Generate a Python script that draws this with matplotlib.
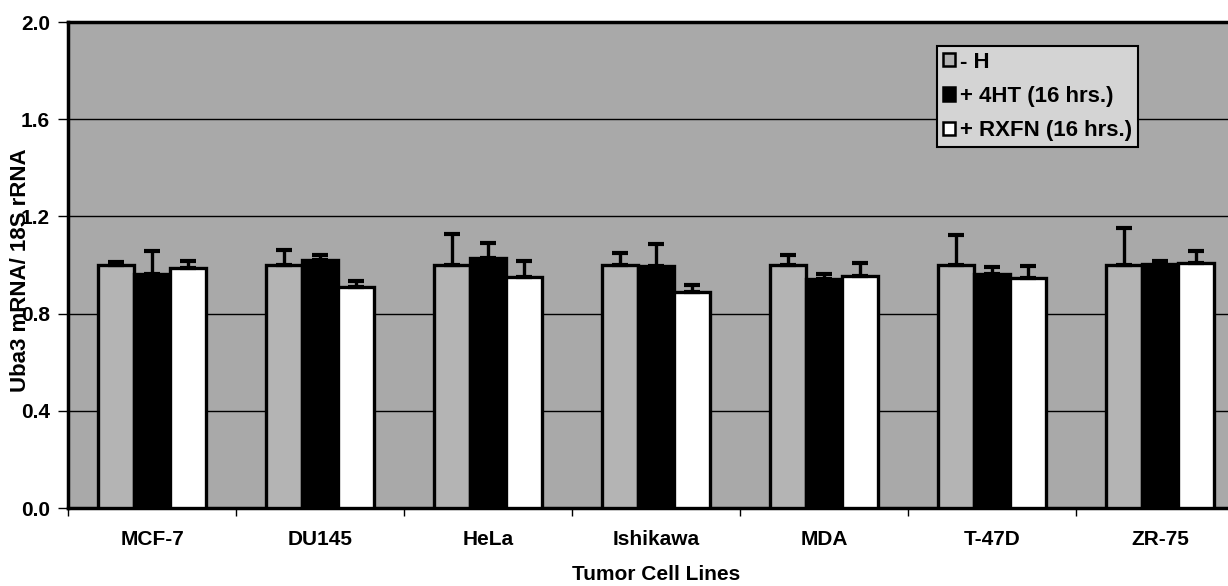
import matplotlib
matplotlib.use("Agg")
import matplotlib.pyplot as plt
import numpy as np
from matplotlib.patches import Patch

categories = ["MCF-7", "DU145", "HeLa", "Ishikawa", "MDA", "T-47D", "ZR-75"]
series_names = ["- H", "+ 4HT (16 hrs.)", "+ RXFN (16 hrs.)"]
minus_h = [1.00, 1.00, 1.00, 1.00, 1.00, 1.00, 1.00]
minus_h_err = [0.013, 0.063, 0.128, 0.050, 0.042, 0.124, 0.152]
plus_4ht = [0.962, 1.022, 1.027, 0.997, 0.942, 0.962, 1.005]
plus_4ht_err = [0.096, 0.021, 0.062, 0.089, 0.020, 0.030, 0.011]
plus_rxfn = [0.986, 0.908, 0.952, 0.889, 0.953, 0.948, 1.008]
plus_rxfn_err = [0.029, 0.028, 0.066, 0.028, 0.055, 0.049, 0.048]
y_ticks = [0.0, 0.4, 0.8, 1.2, 1.6, 2.0]

plt.rcParams['font.family'] = ['Liberation Sans', 'DejaVu Sans']
plt.rcParams['font.weight'] = 'bold'

fig = plt.figure(figsize=(12.28, 5.86), dpi=100)
ax = fig.add_axes([68 / 1228, 1 - 508 / 586, 1176 / 1228, 486 / 586])
bg = '#a9a9a9'
ax.set_facecolor(bg)

x = np.arange(len(categories))
w = 0.214
colors = ['#b4b4b4', '#000000', '#ffffff']
vals = [minus_h, plus_4ht, plus_rxfn]
errs = [minus_h_err, plus_4ht_err, plus_rxfn_err]
for i, (v, e, c) in enumerate(zip(vals, errs, colors)):
    pos = x + (i - 1) * w
    ax.bar(pos, v, width=w, color=c, edgecolor='black', linewidth=2.4, zorder=3)
    ax.errorbar(pos, v, yerr=[np.zeros(len(v)), e], fmt='none', ecolor='black',
                elinewidth=2.4, capsize=5.8, capthick=3.0, zorder=4)

ax.set_ylim(0, 2.0)
ax.set_xlim(-0.5, len(categories) - 0.5)
ax.set_yticks(y_ticks)
ax.set_yticklabels([f"{t:.1f}" for t in y_ticks], fontsize=15, fontweight='bold')
ax.yaxis.grid(True, color='black', linewidth=1.0, zorder=1)
ax.set_axisbelow(True)

ax.set_xticks(x)
ax.set_xticklabels(categories, fontsize=15, fontweight='bold')
ax.tick_params(axis='x', which='major', length=0, pad=16)
ax.set_xticks(np.arange(len(categories) + 1) - 0.5, minor=True)
ax.tick_params(axis='x', which='minor', length=6, width=1, direction='out')
ax.tick_params(axis='y', length=7, width=1, direction='out', pad=6)

for s in ['left', 'bottom', 'top']:
    ax.spines[s].set_linewidth(2.5)
ax.spines['right'].set_visible(False)

ax.set_xlabel("Tumor Cell Lines", fontsize=15, fontweight='bold')
ax.xaxis.set_label_coords(0.5, -0.118)
ax.set_ylabel("Uba3 mRNA/ 18S rRNA", fontsize=16, fontweight='bold')
ax.yaxis.set_label_coords(-0.0315, 0.49)

handles = [Patch(facecolor=c, edgecolor='black', linewidth=1.8) for c in colors]
leg = ax.legend(handles, series_names, loc='upper left',
                bbox_to_anchor=((937 - 68) / 1176, (508 - 46) / 486),
                prop={'weight': 'bold', 'size': 16}, frameon=True, fancybox=False,
                handlelength=0.55, handleheight=0.55, handletextpad=0.25, borderpad=0.25,
                labelspacing=0.6, borderaxespad=0)
leg.get_frame().set_facecolor('#d4d4d4')
leg.get_frame().set_edgecolor('black')
leg.get_frame().set_linewidth(1.5)
leg.get_frame().set_alpha(1)

fig.savefig("out.png", dpi=100)
